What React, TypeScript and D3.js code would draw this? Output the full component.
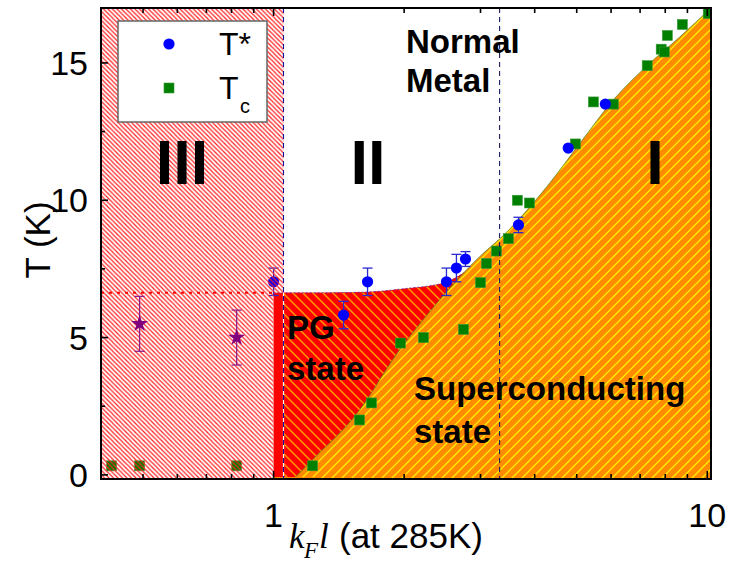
import React from 'react';
import * as d3 from 'd3';

// ---- data ----
const tStarX = [1.0, 1.45, 1.647, 2.504, 2.64, 2.77, 3.67, 4.78, 5.82];
const tStarT = [7.03, 5.82, 7.03, 7.03, 7.53, 7.86, 9.1, 11.9, 13.5];
const tStarErr = [0.5, 0.5, 0.5, 0.5, 0.5, 0.27, 0.28, 0, 0];

const tcX = [0.423, 0.491, 0.822, 1.23, 1.578, 1.682, 1.961, 2.216, 2.741, 3.0, 3.096, 3.265, 3.479, 3.649, 3.89, 4.965, 5.463, 6.073, 7.27, 7.83, 7.96, 8.09, 8.76, 10.05];
const tcT = [0.33, 0.33, 0.33, 0.33, 2.0, 2.62, 4.8, 5.0, 5.3, 7.0, 7.7, 8.15, 8.6, 10.0, 9.9, 12.05, 13.58, 13.5, 14.9, 15.5, 15.4, 16.0, 16.4, 16.8];

const starX = [0.491, 0.822];
const starT = [5.5, 5.0];
const starErr = [1.0, 1.0];

// boundary of superconducting region (Tc line)
const scCurveX = [1.112, 1.23, 1.562, 1.93, 2.337, 2.741, 3.05, 3.3, 4.27, 5.1, 6.07, 7.27, 8.65, 10.2];
const scCurveT = [-0.15, 0.55, 2.26, 4.44, 6.1, 7.35, 8.08, 8.55, 10.5, 12.1, 13.65, 14.9, 15.95, 17.0];

// boundary of pseudogap region (T* line)
const pgCurveX = [1.0, 1.054, 1.3, 1.647, 2.0, 2.466, 2.8, 3.05, 3.3];
const pgCurveT = [6.63, 6.63, 6.63, 6.66, 6.78, 6.99, 7.45, 7.95, 8.55];

const pgLeftX = 1.0;
const dashX1 = 1.054;
const dashX2 = 3.32;
const pgLevel = 6.63;

const xDomain = [0.4, 10.2];
const yDomain = [-0.15, 17];
const xMajor = [1, 10];
const xMinor = [0.5, 0.6, 0.7, 0.8, 0.9, 2, 3, 4, 5, 6, 7, 8, 9];
const yMajor = [0, 5, 10, 15];
const yMinor = [2.5, 7.5, 12.5];

const L = 101, R = 711, T = 8, B = 479;

export default function App() {
  const x = d3.scaleLog().domain(xDomain).range([L, R]);
  const y = d3.scaleLinear().domain(yDomain).range([B, T]);

  const line = d3.line<[number, number]>().x(d => x(d[0])).y(d => y(d[1])).curve(d3.curveMonotoneX);

  const scPts: [number, number][] = scCurveX.map((v, i) => [v, scCurveT[i]]);
  const pgPts: [number, number][] = pgCurveX.map((v, i) => [v, pgCurveT[i]]);

  const scPath = line(scPts) + `L${R},${B}L${x(scCurveX[0])},${B}Z`;
  const pgPath = line(pgPts) + `L${x(pgCurveX[pgCurveX.length - 1])},${B}L${x(pgLeftX)},${B}Z`;

  const hatchIII = `M${L},${T}L${x(dashX1)},${T}L${x(dashX1)},${y(pgLevel)}L${x(pgLeftX)},${y(pgLevel)}L${x(pgLeftX)},${B}L${L},${B}Z`;

  const starPath = d3.symbol(d3.symbolStar, 90)() as string;

  const sansF = 'Liberation Sans, Arial, sans-serif';
  const serifF = 'Liberation Serif, Times New Roman, serif';

  return (
    <svg width={730} height={565} style={{ position: 'absolute', left: 0, top: 0, background: '#fff' }}>
      <defs>
        <pattern id="hIII" patternUnits="userSpaceOnUse" width={4.5} height={4.5}>
          <path d="M-1,-1L5.5,5.5M-1,3.5L1,5.5M3.5,-1L5.5,1" stroke="#ff2020" strokeWidth={1.2} />
        </pattern>
        <pattern id="hPG" patternUnits="userSpaceOnUse" width={10} height={10}>
          <rect width={10} height={10} fill="#ff0000" />
          <path d="M-1,-1L11,11M-1,9L1,11M9,-1L11,1" stroke="#ff9a00" strokeWidth={1.5} />
        </pattern>
        <pattern id="hSC" patternUnits="userSpaceOnUse" width={10} height={10}>
          <rect width={10} height={10} fill="#ff8c00" />
          <path d="M-1,11L11,-1M-1,1L1,-1M9,11L11,9" stroke="#ffee00" strokeWidth={1.3} />
        </pattern>
        <clipPath id="rightOf">
          <rect x={x(dashX1)} y={T} width={R - x(dashX1)} height={B - T} />
        </clipPath>
        <clipPath id="plot">
          <rect x={L} y={T} width={R - L} height={B - T} />
        </clipPath>
      </defs>

      <g clipPath="url(#plot)">
        {/* pseudogap */}
        <path d={pgPath} fill="#ff0000" />
        <g clipPath="url(#rightOf)">
          <path d={pgPath} fill="url(#hPG)" />
        </g>
        <path d={line(pgPts) as string} fill="none" stroke="#7a3aa0" strokeWidth={1} strokeDasharray="2,2" />
        {/* superconducting */}
        <path d={scPath} fill="url(#hSC)" />
        <path d={line(scPts) as string} fill="none" stroke="#5a8a20" strokeWidth={0.8} />
        <line x1={x(pgLeftX)} x2={x(scCurveX[0]) + 20} y1={B - 1} y2={B - 1} stroke="#ff8c00" strokeWidth={2} />

        {/* Tc squares */}
        {tcX.map((v, i) => (
          <rect key={'tc' + i} x={x(v) - 5} y={y(tcT[i]) - 5} width={10} height={10} fill="#008000" stroke="#3a9a3a" strokeWidth={0.6} />
        ))}
        {/* T* circles with error bars */}
        {tStarX.map((v, i) => {
          const cx = x(v), cy = y(tStarT[i]);
          const e = tStarErr[i];
          return (
            <g key={'ts' + i}>
              {e > 0 && (
                <g stroke="#2a2ad0" strokeWidth={1.3}>
                  <line x1={cx} x2={cx} y1={y(tStarT[i] + e)} y2={y(tStarT[i] - e)} />
                  <line x1={cx - 5} x2={cx + 5} y1={y(tStarT[i] + e)} y2={y(tStarT[i] + e)} />
                  <line x1={cx - 5} x2={cx + 5} y1={y(tStarT[i] - e)} y2={y(tStarT[i] - e)} />
                </g>
              )}
              <circle cx={cx} cy={cy} r={5.6} fill="#0000ff" />
            </g>
          );
        })}

        {/* region III hatch */}
        <path d={hatchIII} fill="url(#hIII)" />
        <line x1={L} x2={x(pgLeftX)} y1={y(pgLevel)} y2={y(pgLevel)} stroke="#ff0000" strokeWidth={2} strokeDasharray="3,5" />

        {/* dashed verticals */}
        <line x1={x(dashX1)} x2={x(dashX1)} y1={y(pgLevel)} y2={B} stroke="#ffffff" strokeWidth={1.2} />
        <line x1={x(dashX1)} x2={x(dashX1)} y1={T} y2={B} stroke="#1010a0" strokeWidth={1.1} strokeDasharray="5,4" />
        <line x1={x(dashX2)} x2={x(dashX2)} y1={T} y2={B} stroke="#1a1a60" strokeWidth={1.1} strokeDasharray="5,4" />

        {/* stars */}
        {starX.map((v, i) => {
          const cx = x(v), cy = y(starT[i]);
          const e = starErr[i];
          return (
            <g key={'st' + i}>
              <g stroke="#8a1a8a" strokeWidth={1.2}>
                <line x1={cx} x2={cx} y1={y(starT[i] + e)} y2={y(starT[i] - e)} />
                <line x1={cx - 5} x2={cx + 5} y1={y(starT[i] + e)} y2={y(starT[i] + e)} />
                <line x1={cx - 5} x2={cx + 5} y1={y(starT[i] - e)} y2={y(starT[i] - e)} />
              </g>
              <path d={starPath} transform={`translate(${cx},${cy})`} fill="#800080" />
            </g>
          );
        })}
      </g>

      {/* legend */}
      <rect x={118} y={21} width={149} height={101} fill="#fff" stroke="#666" strokeWidth={1.5} />
      <circle cx={169} cy={44} r={5.6} fill="#0000ff" />
      <rect x={164} y={83} width={10} height={10} fill="#008000" stroke="#3a9a3a" strokeWidth={0.6} />
      <text x={219} y={55} fontFamily={sansF} fontSize={32} fill="#000">T*</text>
      <text x={219} y={99} fontFamily={sansF} fontSize={32} fill="#000">T</text>
      <text x={240} y={113} fontFamily={sansF} fontSize={20} fill="#000">c</text>

      {/* frame */}
      <rect x={L} y={T} width={R - L} height={B - T} fill="none" stroke="#000" strokeWidth={2} />

      {/* ticks */}
      <g stroke="#000" strokeWidth={1.6}>
        {xMajor.map(v => (
          <g key={'xM' + v}>
            <line x1={x(v)} x2={x(v)} y1={B} y2={B - 8} />
            <line x1={x(v)} x2={x(v)} y1={T} y2={T + 8} />
          </g>
        ))}
        {xMinor.map(v => (
          <g key={'xm' + v}>
            <line x1={x(v)} x2={x(v)} y1={B} y2={B - 5} />
            <line x1={x(v)} x2={x(v)} y1={T} y2={T + 5} />
          </g>
        ))}
        {yMajor.map(v => (
          <line key={'yM' + v} x1={L} x2={L + 7} y1={y(v)} y2={y(v)} />
        ))}
        {yMinor.map(v => (
          <line key={'ym' + v} x1={L} x2={L + 4} y1={y(v)} y2={y(v)} />
        ))}
      </g>

      {/* tick labels */}
      {yMajor.map(v => (
        <text key={'yl' + v} x={88} y={y(v) + 12} textAnchor="end" fontFamily={sansF} fontSize={34}>{v}</text>
      ))}
      {xMajor.map(v => (
        <text key={'xl' + v} x={x(v)} y={527} textAnchor="middle" fontFamily={sansF} fontSize={34}>{v}</text>
      ))}

      {/* axis titles */}
      <text transform="translate(50,240) rotate(-90)" textAnchor="middle" fontFamily={sansF} fontSize={35}>T (K)</text>
      <g transform="translate(289,548)">
        <text x={0} y={0} fontFamily={serifF} fontStyle="italic" fontSize={35}>k</text>
        <text x={15} y={10} fontFamily={serifF} fontStyle="italic" fontSize={23}>F</text>
        <text x={30} y={0} fontFamily={serifF} fontStyle="italic" fontSize={35}>l</text>
        <text x={50} y={0} fontFamily={sansF} fontSize={35}>(at 285K)</text>
      </g>

      {/* region labels */}
      <g fontFamily={sansF} fontWeight="bold" fill="#000">
        <text x={182} y={184} textAnchor="middle" fontSize={63}>III</text>
        <text x={368} y={184} textAnchor="middle" fontSize={63}>II</text>
        <text x={655} y={184} textAnchor="middle" fontSize={63}>I</text>
        <text x={406} y={53} fontSize={33}>Normal</text>
        <text x={406} y={92} fontSize={33}>Metal</text>
        <text x={287} y={339} fontSize={33}>PG</text>
        <text x={287} y={380} fontSize={33}>state</text>
        <text x={414} y={400} fontSize={33}>Superconducting</text>
        <text x={414} y={443} fontSize={33}>state</text>
      </g>
    </svg>
  );
}
